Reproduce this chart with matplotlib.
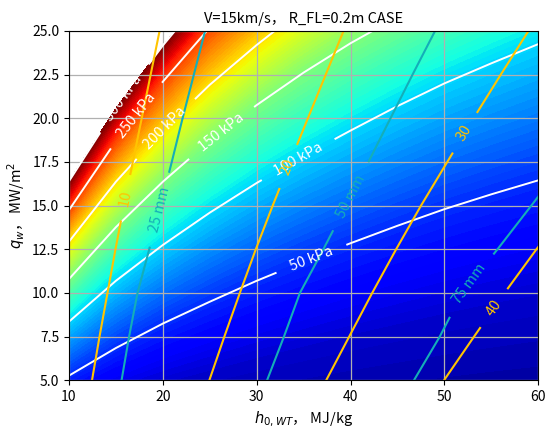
import numpy as np
import matplotlib
matplotlib.use('Agg')
import matplotlib.pyplot as plt

plt.rcParams['font.family'] = ['Noto Sans CJK JP', 'DejaVu Sans']
plt.rcParams['axes.unicode_minus'] = False

# 総エンタルピー h0 の計算点 [MJ/kg]
h_st = [10, 15, 20, 25, 30, 35, 40, 45, 50, 55, 60]

# 圧力の等値線: 各 h0 での q_w [MW/m2]
p_levels = [0, 20, 50, 100, 150, 200, 250, 300, 400]
q_p0 = [0, 0, 0, 0, 0, 0, 0, 0, 0, 0, 0]
q_p20 = [3.05, 3.95, 4.75, 5.45, 6.15, 6.8, 7.45, 8.05, 8.65, 9.2, 9.7]
q_p50 = [5.27, 6.85, 8.25, 9.5, 10.7, 11.8, 12.85, 13.85, 14.8, 15.65, 16.45]
q_p100 = [8.36, 10.7, 12.75, 14.6, 16.3, 17.85, 19.3, 20.7, 22.0, 23.15, 24.25]
q_p150 = [10.8, 13.77, 16.37, 18.71, 20.76, 22.62, 24.3, 25.8, 27.2, 28.5, 29.8]
q_p200 = [12.94, 16.37, 19.32, 21.92, 24.2, 26.3, 28.2, 30.0, 31.7, 33.3, 34.8]
q_p250 = [14.75, 18.7, 22.1, 25.2, 27.6, 29.9, 32.0, 34.0, 35.9, 37.7, 39.4]
q_p300 = [16.4, 20.58, 24.17, 27.4, 30.0, 32.4, 34.6, 36.7, 38.7, 40.6, 42.4]
q_p400 = [19.5, 24.2, 28.3, 31.5, 34.7, 37.6, 40.2, 42.6, 44.9, 47.0, 49.0]

# q_w の計算点 [MW/m2]
q_st = [5, 7.5, 10, 12.5, 15, 17.5, 20, 22.5, 25]

# 黄線の等値線: 各 q_w での h0
k_levels = [0, 10, 20, 30, 40, 50]
h_k0 = [0, 0, 0, 0, 0, 0, 0, 0, 0]
h_k10 = [12.45, 13.25, 14.1, 14.95, 15.85, 16.8, 17.75, 18.7, 19.65]
h_k20 = [24.95, 26.55, 28.2, 29.9, 31.7, 33.55, 35.45, 37.35, 39.25]
h_k30 = [37.4, 39.85, 42.3, 44.85, 47.5, 50.3, 53.1, 56.0, 58.95]
h_k40 = [49.95, 53.15, 56.4, 59.8, 63.4, 67.1, 70.9, 74.7, 78.6]
h_k50 = [62.4, 66.4, 70.5, 74.75, 79.25, 83.9, 88.6, 93.4, 98.25]

# 寸法 [mm] の等値線: 各 q_w での h0
r_levels = [0, 25, 50, 75, 100]
h_r0 = [0, 0, 0, 0, 0, 0, 0, 0, 0]
h_r25 = [15.6, 16.4, 17.3, 18.55, 19.75, 20.95, 22.1, 23.3, 24.5]
h_r50 = [31.1, 32.9, 34.6, 37.1, 39.5, 41.9, 44.25, 46.6, 49.0]
h_r75 = [46.75, 49.5, 51.9, 55.65, 59.25, 62.85, 66.4, 69.9, 73.5]
h_r100 = [62.4, 66.0, 69.2, 74.2, 79.0, 83.8, 88.5, 93.2, 98.0]

# ラベル位置
p_label_pos = [(35.8, 12.0), (34.35, 17.7), (26.2, 19.2), (20.2, 19.45), (17.2, 20.15), (15.75, 21.2)]
k_label_pos = [(15.6, 15.5), (33.1, 17.3), (52.1, 19.2), (55.1, 9.2)]
r_label_pos = [(19.4, 14.8), (39.8, 15.6), (52.9, 10.4)]

# 格子線上にちょうど乗らないよう描画レベルをわずかにずらす
eps = 1e-6
gap = 15

fig, ax = plt.subplots(figsize=(5.45, 4.28), dpi=100)
fig.subplots_adjust(left=0.1266, right=0.9877, bottom=0.1114, top=0.9276)

# ラベルの切れ目を正しく計算するため先に範囲を固定
ax.set_xlim(10, 60)
ax.set_ylim(5, 25)
ax.set_autoscale_on(False)

# 圧力マップ
Hp = np.tile(np.array(h_st, float), (len(p_levels), 1))
Qp = np.array([q_p0, q_p20, q_p50, q_p100, q_p150, q_p200, q_p250, q_p300, q_p400])
Pp = np.repeat(np.array(p_levels, float)[:, None], len(h_st), axis=1)

ax.contourf(Hp, Qp, Pp, levels=np.linspace(0, 300 + eps, 101), cmap='jet')
cs_p = ax.contour(Hp, Qp, Pp, levels=np.array([50, 100, 150, 200, 250, 300]) + eps,
                  colors='white', linewidths=1.4)
ax.clabel(cs_p, fmt='%d kPa', fontsize=10.5, manual=p_label_pos, inline_spacing=gap)

# 黄線
Qk = np.repeat(np.array(q_st, float)[:, None], len(k_levels), axis=1)
Hk = np.array([h_k0, h_k10, h_k20, h_k30, h_k40, h_k50]).T
Kk = np.tile(np.array(k_levels, float), (len(q_st), 1))
cs_k = ax.contour(Hk, Qk, Kk, levels=np.array([10, 20, 30, 40]) + eps,
                  colors='#FFC400', linewidths=1.5)
ax.clabel(cs_k, fmt='%d', fontsize=10.5, manual=k_label_pos, inline_spacing=gap)

# 寸法 mm
Qr = np.repeat(np.array(q_st, float)[:, None], len(r_levels), axis=1)
Hr = np.array([h_r0, h_r25, h_r50, h_r75, h_r100]).T
Rr = np.tile(np.array(r_levels, float), (len(q_st), 1))
cs_r = ax.contour(Hr, Qr, Rr, levels=np.array([25, 50, 75]) + eps,
                  colors='#14AEB8', linewidths=1.5)
ax.clabel(cs_r, fmt='%d mm', fontsize=10.5, manual=r_label_pos, inline_spacing=gap)

ax.set_xticks([10, 20, 30, 40, 50, 60])
ax.set_yticks(np.arange(5, 25.1, 2.5))
ax.yaxis.set_major_formatter(plt.FormatStrFormatter('%.1f'))
ax.tick_params(labelsize=10)
ax.grid(True, color='#b0b0b0', linewidth=0.9)

ax.set_title('V=15km/s， R_FL=0.2m CASE', fontsize=10.5)
ax.set_xlabel(r'$h_{0,WT}$， MJ/kg', fontsize=10.5)
ax.set_ylabel(r'$q_w$， MW/m$^2$', fontsize=10.5)

plt.savefig('out.png', dpi=100)
